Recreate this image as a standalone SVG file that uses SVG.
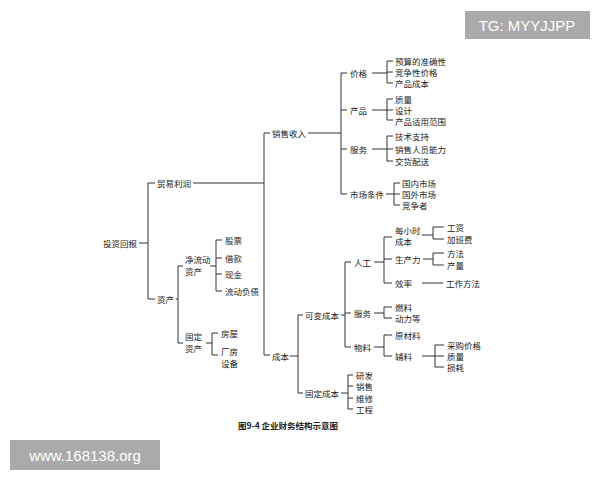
<svg xmlns="http://www.w3.org/2000/svg" width="600" height="480" viewBox="0 0 600 480">
<style>
text{font-family:"Noto Sans CJK SC","Liberation Serif",serif;font-size:8.5px;fill:#222;dominant-baseline:central}
.c path{fill:none;stroke:#333;stroke-width:1}
.cap{font-weight:bold;font-size:8.5px}
.wm{font-family:"Liberation Sans",sans-serif;font-size:15px;fill:#fff}
</style>
<rect width="600" height="480" fill="#fff"/>
<g class="c" id="connectors"><path d="
M139 243H148M148 183V299M148 183H155M148 299H155
M193 183H264M264 133V355M264 133H270M264 355H270
M176 299H178M178 266V343M178 266H183M178 343H183
M210 266H216M216 240V291M216 240H222M216 258H222M216 274H222M216 291H222
M206 343H212M212 333V355M212 333H218M212 355H218
M308 133H341M341 73V194M341 73H347M341 110H347M341 149H347M341 194H347
M372 73H387M387 61V83M387 61H393M387 72H393M387 83H393
M372 110H387M387 99V120M387 99H393M387 110H393M387 120H393
M372 149H387M387 136V161M387 136H393M387 149H393M387 161H393
M386 194H394M394 183V205M394 183H400M394 194H400M394 205H400
M290 356H298M298 315V393M298 315H303M298 393H303
M341 315H345M345 262V347M345 262H351M345 313H351M345 347H351
M374 262H384M384 237V283M384 237H392M384 259H392M384 283H392
M422 235H433M433 227V239M433 227H444M433 239H444
M423 259H433M433 253V265M433 253H444M433 265H444
M422 283H443
M374 313H384M384 307V318M384 307H392M384 318H392
M374 347H384M384 335V356M384 335H392M384 356H392
M422 356H435M435 345V367M435 345H444M435 356H444M435 367H444
M341 393H348M348 375V409M348 375H353M348 386H353M348 398H353M348 409H353"/></g>
<g id="n-root"><text x="103" y="243">投资回报</text></g>
<g id="n-trade"><text x="157" y="183">贸易利润</text></g>
<g id="n-assets"><text x="157" y="299">资产</text></g>
<g id="n-net"><text x="185" y="259">净流动</text><text x="185" y="271">资产</text></g>
<g id="n-net-kids"><text x="225" y="240">股票</text><text x="225" y="258">借款</text><text x="225" y="274">现金</text><text x="225" y="291">流动负债</text></g>
<g id="n-fixed"><text x="185" y="336">固定</text><text x="185" y="348">资产</text></g>
<g id="n-fixed-kids"><text x="221" y="333">房屋</text><text x="221" y="351">厂房</text><text x="221" y="363">设备</text></g>
<g id="n-sales"><text x="272" y="133">销售收入</text></g>
<g id="n-price"><text x="350" y="73">价格</text><text x="395" y="61">预算的准确性</text><text x="395" y="72">竞争性价格</text><text x="395" y="83">产品成本</text></g>
<g id="n-product"><text x="350" y="110">产品</text><text x="395" y="99">质量</text><text x="395" y="110">设计</text><text x="395" y="121">产品适用范围</text></g>
<g id="n-service"><text x="350" y="149">服务</text><text x="395" y="136">技术支持</text><text x="395" y="149">销售人员能力</text><text x="395" y="161">交货配送</text></g>
<g id="n-market"><text x="350" y="194">市场条件</text><text x="402" y="183">国内市场</text><text x="402" y="194">国外市场</text><text x="402" y="205">竞争者</text></g>
<g id="n-cost"><text x="272" y="356">成本</text></g>
<g id="n-var"><text x="305" y="315">可变成本</text></g>
<g id="n-labor"><text x="354" y="262">人工</text>
<text x="395" y="230">每小时</text><text x="395" y="241">成本</text><text x="447" y="227">工资</text><text x="447" y="239">加班费</text>
<text x="395" y="259">生产力</text><text x="447" y="253">方法</text><text x="447" y="265">产量</text>
<text x="395" y="283">效率</text><text x="446" y="283">工作方法</text></g>
<g id="n-svc2"><text x="354" y="313">服务</text><text x="395" y="307">燃料</text><text x="395" y="318">动力等</text></g>
<g id="n-mat"><text x="354" y="347">物料</text><text x="395" y="335">原材料</text><text x="395" y="356">辅料</text>
<text x="447" y="345">采购价格</text><text x="447" y="356">质量</text><text x="447" y="367">损耗</text></g>
<g id="n-fixcost"><text x="305" y="393">固定成本</text><text x="356" y="375">研发</text><text x="356" y="386">销售</text><text x="356" y="398">维修</text><text x="356" y="409">工程</text></g>
<text class="cap" x="238" y="425">图9-4  企业财务结构示意图</text>
<rect x="465" y="11" width="125" height="28" fill="#aaa"/><text class="wm" x="527" y="25" text-anchor="middle">TG: MYYJJPP</text>
<rect x="10" y="440" width="150" height="30" fill="#aaa"/><text class="wm" x="85" y="455" text-anchor="middle">www.168138.org</text>
</svg>
